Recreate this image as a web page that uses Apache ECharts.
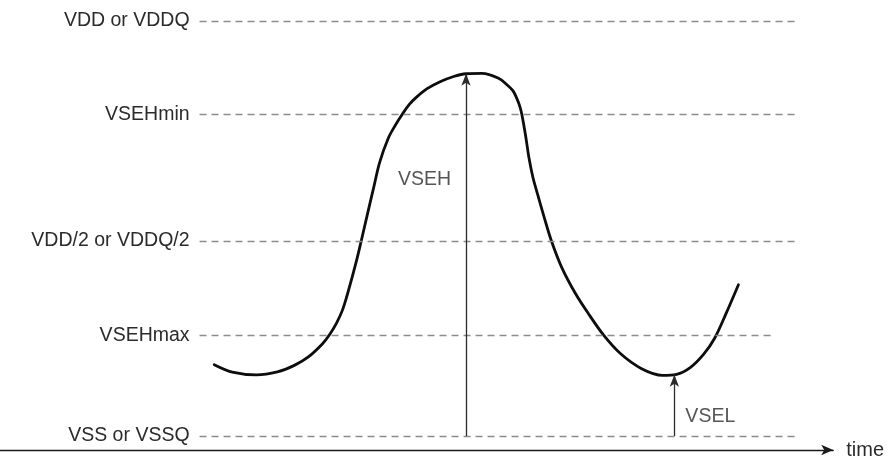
<!DOCTYPE html>
<html>
<head>
<meta charset="utf-8">
<script src="https://cdn.jsdelivr.net/npm/echarts@6/dist/echarts.min.js"></script>
<style>html,body{margin:0;padding:0;background:#fff}#c{width:887px;height:460px}</style>
</head>
<body>
<div id="c"></div>
<script>
// Voltage levels (VSS = 0, VDD = 100)
const levelNames = ['VDD or VDDQ', 'VSEHmin', 'VDD/2 or VDDQ/2', 'VSEHmax', 'VSS or VSSQ'];
const levelValues = [100, 77.5, 47, 24.2, 0];
const levelEnds = [100, 100, 100, 95.5, 100];

// Signal waveform (time, voltage)
const curveTime = [2.45, 5.47, 9.5, 13.0, 15.83, 18.17, 20.5, 21.67, 22.83, 23.83, 24.67, 25.5, 26.33, 27.0, 28.0, 29.17, 30.08, 31.5, 32.67, 33.83, 35.0, 36.33, 38.0, 40.17, 42.33, 44.5, 47.17, 50.0, 51.33, 52.33, 53.0, 53.5, 53.83, 54.5, 55.0, 55.67, 56.5, 57.5, 58.77, 60.5, 62.83, 65.17, 67.45, 70.33, 73.83, 77.33, 79.67, 82.0, 84.17, 86.0, 88.0, 90.0];
const curveVolt = [17.19, 15.42, 14.75, 15.47, 17.03, 19.06, 22.18, 24.34, 27.1, 30.22, 34.05, 38.37, 42.93, 47.0, 53.24, 60.43, 65.95, 71.7, 74.82, 77.46, 79.86, 81.77, 83.69, 85.37, 86.57, 87.29, 87.36, 86.16, 84.65, 83.21, 81.29, 79.38, 77.46, 71.94, 67.15, 62.35, 58.03, 53.0, 47.0, 40.6, 34.22, 29.02, 24.39, 19.83, 16.24, 14.63, 14.87, 16.55, 19.66, 23.5, 29.74, 36.45];

// Measurement arrows
const arrowNames = ['VSEH', 'VSEL'];
const arrowTime = [44.5, 79.3];
const arrowTop = [87.3, 14.8];
const arrowLabelVolt = [61.9, 4.8];

const font = "'Liberation Sans', Arial, sans-serif";
const textColor = '#2b2b2b';
const chart = echarts.init(document.getElementById('c'), null, {renderer: 'canvas'});

const levelLines = levelNames.map((n, i) => [
  {name: n, coord: [0, levelValues[i]]},
  {coord: [levelEnds[i], levelValues[i]]}
]);
const arrowLines = arrowNames.map((n, i) => [
  {coord: [arrowTime[i], 0]},
  {coord: [arrowTime[i], arrowTop[i]]}
]);

chart.setOption({
  animation: false,
  backgroundColor: '#fff',
  grid: {left: 0, right: 52, top: 21, bottom: 8, containLabel: false},
  xAxis: {
    type: 'value', min: -33.33, max: 105.83,
    name: 'time', nameLocation: 'end', nameGap: 13,
    nameTextStyle: {fontFamily: font, fontSize: 20, color: textColor, verticalAlign: 'middle', padding: [4, 0, 0, 0]},
    axisLine: {show: true, onZero: false, symbol: ['none', 'arrow'], symbolSize: [8, 12], symbolOffset: [0, 0],
      lineStyle: {color: '#1a1a1a', width: 1.4}},
    axisTick: {show: false}, axisLabel: {show: false}, splitLine: {show: false}
  },
  yAxis: {type: 'value', min: -3.36, max: 100, show: false, splitLine: {show: false}},
  series: [
    {
      type: 'line', data: [], silent: true,
      markLine: {
        silent: true, symbol: ['none', 'none'],
        lineStyle: {color: '#8c8c8c', width: 1.3, type: [7, 5]},
        label: {show: true, position: 'start', distance: 10, formatter: '{b}',
          fontFamily: font, fontSize: 19.5, color: textColor},
        data: levelLines
      }
    },
    {
      type: 'line', data: [], silent: true,
      markLine: {
        silent: true, symbol: ['none', 'arrow'], symbolSize: [7, 12],
        lineStyle: {color: '#2b2b2b', width: 1.3, type: 'solid'},
        label: {show: false},
        data: arrowLines
      }
    },
    {
      type: 'line', name: 'signal',
      data: curveTime.map((t, i) => [t, curveVolt[i]]),
      smooth: 0.35, showSymbol: false, symbol: 'none',
      lineStyle: {color: '#0d0d0d', width: 2.8, cap: 'round', join: 'round'}
    },
    {
      type: 'scatter', symbolSize: 0, silent: true,
      data: arrowNames.map((n, i) => ({name: n, value: [arrowTime[i], arrowLabelVolt[i]],
        label: {position: i === 0 ? 'left' : 'right', distance: i === 0 ? 15 : 11}})),
      label: {show: true, formatter: '{b}', fontFamily: font, fontSize: 19.5, color: textColor}
    }
  ]
});
</script>
</body>
</html>
